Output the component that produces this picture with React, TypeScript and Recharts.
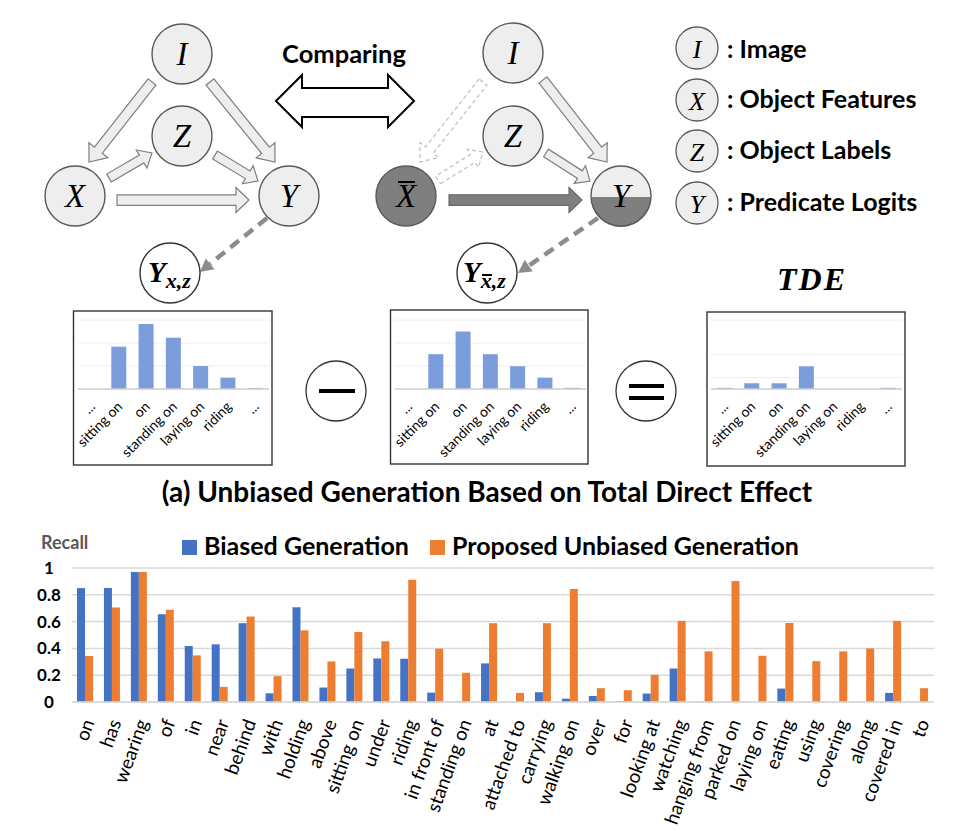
import React from 'react';
import { BarChart, Bar, XAxis, YAxis, CartesianGrid } from 'recharts';

// ---------- Data ----------
const predicates = [
  'on', 'has', 'wearing', 'of', 'in', 'near', 'behind', 'with', 'holding', 'above',
  'sitting on', 'under', 'riding', 'in front of', 'standing on', 'at', 'attached to',
  'carrying', 'walking on', 'over', 'for', 'looking at', 'watching', 'hanging from',
  'parked on', 'laying on', 'eating', 'using', 'covering', 'along', 'covered in', 'to',
];
const biasedRecall = [
  0.85, 0.85, 0.97, 0.655, 0.418, 0.43, 0.588, 0.065, 0.708, 0.108,
  0.25, 0.325, 0.323, 0.07, 0.003, 0.288, 0,
  0.073, 0.025, 0.045, 0.005, 0.063, 0.25, 0.002,
  0, 0, 0.1, 0, 0, 0, 0.068, 0,
];
const unbiasedRecall = [
  0.343, 0.705, 0.97, 0.688, 0.348, 0.113, 0.638, 0.193, 0.535, 0.303,
  0.523, 0.453, 0.913, 0.398, 0.218, 0.588, 0.068,
  0.588, 0.843, 0.103, 0.088, 0.203, 0.605, 0.378,
  0.903, 0.345, 0.59, 0.305, 0.378, 0.4, 0.605, 0.103,
];
const recallTicks = [0, 0.2, 0.4, 0.6, 0.8, 1];

const miniLabels = ['...', 'sitting on', 'on', 'standing on', 'laying on', 'riding', '...'];
const factualLogits = [0, 3.68, 5.65, 4.46, 2.0, 0.99, 0.09];
const counterfactualLogits = [0, 3.03, 5.0, 3.03, 1.98, 0.99, 0.1];
const tdeLogits = [0.1, 0.5, 0.5, 1.98, 0, 0, 0.1];
const miniTicks = [0, 1, 2, 3, 4, 5, 6];

const legendItems = [
  { sym: 'I', text: ': Image' },
  { sym: 'X', text: ': Object Features' },
  { sym: 'Z', text: ': Object Labels' },
  { sym: 'Y', text: ': Predicate Logits' },
];

const SANS = 'Lato, "Open Sans", sans-serif';
const SERIF = '"Liberation Serif", "DejaVu Serif", serif';
const BLUE = '#4472C4';
const ORANGE = '#ED7D31';
const MINI_BLUE = '#7c9ddb';
const NODE_FILL = '#eeeeee';
const NODE_STROKE = '#595959';

// ---------- Diagram helpers ----------
function blockArrow(x1: number, y1: number, x2: number, y2: number, shaft: number, head: number, headLen: number) {
  const dx = x2 - x1, dy = y2 - y1;
  const L = Math.hypot(dx, dy);
  const ux = dx / L, uy = dy / L;
  const nx = -uy, ny = ux;
  const bx = x2 - ux * headLen, by = y2 - uy * headLen;
  const s = shaft / 2, h = head / 2;
  const pts = [
    [x1 + nx * s, y1 + ny * s],
    [bx + nx * s, by + ny * s],
    [bx + nx * h, by + ny * h],
    [x2, y2],
    [bx - nx * h, by - ny * h],
    [bx - nx * s, by - ny * s],
    [x1 - nx * s, y1 - ny * s],
  ];
  return pts.map((p) => `${p[0].toFixed(1)},${p[1].toFixed(1)}`).join(' ');
}

function DashedPointer({ x1, y1, x2, y2 }: { x1: number; y1: number; x2: number; y2: number }) {
  const dx = x2 - x1, dy = y2 - y1;
  const L = Math.hypot(dx, dy);
  const ux = dx / L, uy = dy / L;
  const nx = -uy, ny = ux;
  const hl = 13, hw = 7;
  const bx = x2 - ux * hl, by = y2 - uy * hl;
  return (
    <g>
      <line x1={x1} y1={y1} x2={bx} y2={by} stroke="#8c8c8c" strokeWidth={4.5} strokeDasharray="11 7" />
      <polygon points={`${x2},${y2} ${bx + nx * hw},${by + ny * hw} ${bx - nx * hw},${by - ny * hw}`} fill="#8c8c8c" />
    </g>
  );
}

function NodeCircle({ cx, cy, r = 30, fill = NODE_FILL, letter, size = 33, bar = false }: any) {
  return (
    <g>
      <circle cx={cx} cy={cy} r={r} fill={fill} stroke={NODE_STROKE} strokeWidth={1.4} />
      <text x={cx} y={cy + size * 0.33} textAnchor="middle" fontFamily={SERIF} fontStyle="italic" fontSize={size} fill="#000">
        {letter}
      </text>
      {bar && <line x1={cx - 8} y1={cy - 14} x2={cx + 9} y2={cy - 14} stroke="#000" strokeWidth={2} />}
    </g>
  );
}

// ---------- Chart ticks ----------
const BottomTick = (p: any) => {
  const ax = p.x + 3;
  const ay = p.y + 10;
  return (
    <text x={ax} y={ay} dy="0.35em" textAnchor="end" transform={`rotate(-70 ${ax} ${ay})`} fontFamily={SANS} fontSize={19} fill="#000">
      {p.payload.value}
    </text>
  );
};

const RecallTick = (p: any) => (
  <text x={p.x - 15} y={p.y} dy="0.35em" textAnchor="middle" fontFamily={SANS} fontWeight={700} fontSize={17} fill="#000">
    {p.payload.value === 0 ? '0' : String(p.payload.value)}
  </text>
);

const MiniTick = (p: any) => {
  const ax = p.x + 1;
  const ay = p.y + 7;
  return (
    <text x={ax} y={ay} dy="0.35em" textAnchor="end" transform={`rotate(-45 ${ax} ${ay})`} fontFamily={SANS} fontSize={14} fill="#000">
      {miniLabels[p.payload.value]}
    </text>
  );
};

function MiniChart({ left, top, width, height, values, margin, xh }: any) {
  const data = miniLabels.map((label, i) => ({ key: i, label, value: values[i] }));
  return (
    <div style={{ position: 'absolute', left, top, width, height }}>
      <BarChart width={width} height={height} data={data} margin={margin}>
        <CartesianGrid vertical={false} stroke="#eeeeee" strokeWidth={1} />
        <XAxis dataKey="key" interval={0} tickLine={false} axisLine={{ stroke: '#cfcfcf', strokeWidth: 1.5 }} height={xh} tick={MiniTick} />
        <YAxis hide domain={[0, 6]} ticks={miniTicks} />
        <Bar dataKey="value" fill={MINI_BLUE} barSize={15} isAnimationActive={false} />
      </BarChart>
    </div>
  );
}

export default function App() {
  const recallData = predicates.map((name, i) => ({ name, biased: biasedRecall[i], unbiased: unbiasedRecall[i] }));

  return (
    <div style={{ position: 'absolute', left: 0, top: 0, width: 967, height: 831, background: '#fff', overflow: 'hidden' }}>
      {/* mini charts */}
      <MiniChart left={73} top={311} width={199} height={154} values={factualLogits} margin={{ top: 9, right: 3, left: 5, bottom: 0 }} xh={76} />
      <MiniChart left={390} top={310} width={198} height={154} values={counterfactualLogits} margin={{ top: 10, right: 2, left: 5, bottom: 0 }} xh={75} />
      <MiniChart left={707} top={312} width={198} height={154} values={tdeLogits} margin={{ top: 8, right: 3, left: 4, bottom: 0 }} xh={77} />

      {/* main recall chart */}
      <div style={{ position: 'absolute', left: 0, top: 530 }}>
        <BarChart width={967} height={301} data={recallData} margin={{ top: 38, right: 33, left: 10, bottom: 0 }} barGap={0}>
          <CartesianGrid vertical={false} stroke="#d9d9d9" strokeWidth={1.5} />
          <XAxis dataKey="name" interval={0} tickLine={false} axisLine={{ stroke: '#d9d9d9', strokeWidth: 1.5 }} height={129} tick={BottomTick} />
          <YAxis width={62} domain={[0, 1]} ticks={recallTicks} axisLine={false} tickLine={false} tick={RecallTick} />
          <Bar dataKey="biased" name="Biased Generation" fill={BLUE} barSize={8} isAnimationActive={false} />
          <Bar dataKey="unbiased" name="Proposed Unbiased Generation" fill={ORANGE} barSize={8} isAnimationActive={false} />
        </BarChart>
      </div>

      {/* diagram overlay */}
      <svg width={967} height={831} style={{ position: 'absolute', left: 0, top: 0, pointerEvents: 'none' }}>
        {/* left causal graph arrows */}
        <g fill={NODE_FILL} stroke="#7f7f7f" strokeWidth={1.2}>
          <polygon points={blockArrow(152, 82, 89, 162, 10, 24, 15)} />
          <polygon points={blockArrow(210, 82, 275, 162, 10, 24, 15)} />
          <polygon points={blockArrow(109, 178, 152, 153, 9, 21, 12)} />
          <polygon points={blockArrow(215, 155, 258, 181, 9, 21, 12)} />
          <polygon points={blockArrow(117, 200, 249, 200, 10.5, 25, 13)} />
        </g>
        <NodeCircle cx={182} cy={54} letter="I" />
        <NodeCircle cx={182} cy={136} letter="Z" />
        <NodeCircle cx={75} cy={196} letter="X" />
        <NodeCircle cx={289} cy={196} letter="Y" />
        <DashedPointer x1={267} y1={218} x2={200} y2={272} />

        {/* Comparing */}
        <text x={344} y={63} textAnchor="middle" fontFamily={SANS} fontWeight={700} fontSize={25.5} fill="#000">Comparing</text>
        <polygon
          points="276,101 302,75 302,88 388,88 388,75 414,101 388,127 388,117 302,117 302,127"
          fill="#fff" stroke="#000" strokeWidth={2}
        />

        {/* right causal graph */}
        <g fill="#fff" stroke="#bdbdbd" strokeWidth={1.2} strokeDasharray="4 3">
          <polygon points={blockArrow(483, 82, 420, 162, 10, 24, 15)} />
          <polygon points={blockArrow(438, 180, 483, 152, 9, 21, 12)} />
        </g>
        <g fill={NODE_FILL} stroke="#7f7f7f" strokeWidth={1.2}>
          <polygon points={blockArrow(543, 80, 607, 162, 10, 24, 15)} />
          <polygon points={blockArrow(546, 153, 590, 181, 9, 21, 12)} />
        </g>
        <polygon points={blockArrow(449, 200, 582, 200, 10.5, 25, 13)} fill="#7f7f7f" stroke="#6a6a6a" strokeWidth={1.2} />
        <NodeCircle cx={513} cy={53} letter="I" />
        <NodeCircle cx={513} cy={136} letter="Z" />
        <NodeCircle cx={406} cy={196} letter="X" fill="#7f7f7f" bar />
        <g>
          <circle cx={621} cy={196} r={30} fill={NODE_FILL} />
          <path d="M 591 197 A 30 30 0 0 0 651 197 Z" fill="#7f7f7f" />
          <circle cx={621} cy={196} r={30} fill="none" stroke={NODE_STROKE} strokeWidth={1.4} />
          <text x={621} y={207} textAnchor="middle" fontFamily={SERIF} fontStyle="italic" fontSize={33} fill="#000">Y</text>
        </g>
        <DashedPointer x1={598} y1={218} x2={518} y2={273} />

        {/* counterfactual outputs */}
        <circle cx={170} cy={273} r={30} fill="#fff" stroke="#333" strokeWidth={1.4} />
        <text x={148} y={282} fontFamily={SERIF} fontStyle="italic" fontWeight={700} fontSize={29} fill="#000">
          Y<tspan fontSize={22} dy={6}>x,z</tspan>
        </text>
        <circle cx={487} cy={273} r={30} fill="#fff" stroke="#333" strokeWidth={1.4} />
        <text x={463} y={282} fontFamily={SERIF} fontStyle="italic" fontWeight={700} fontSize={29} fill="#000">
          Y<tspan fontSize={22} dy={6}>x,z</tspan>
        </text>
        <line x1={482} y1={275} x2={492} y2={275} stroke="#000" strokeWidth={2} />

        {/* legend of symbols */}
        {legendItems.map((it, i) => {
          const cy = [48, 100, 151, 203][i];
          const by = [58, 108, 159, 211][i];
          return (
            <g key={it.sym}>
              <circle cx={697} cy={cy} r={21} fill={NODE_FILL} stroke={NODE_STROKE} strokeWidth={1.3} />
              <text x={697} y={cy + 10} textAnchor="middle" fontFamily={SERIF} fontStyle="italic" fontSize={26} fill="#000">{it.sym}</text>
              <text x={727} y={by} fontFamily={SANS} fontWeight={700} fontSize={25} fill="#000">{it.text}</text>
            </g>
          );
        })}

        <text x={812} y={290} textAnchor="middle" fontFamily={SERIF} fontStyle="italic" fontWeight={700} fontSize={32} letterSpacing={2} fill="#000">TDE</text>

        {/* mini chart frames */}
        <rect x={73.5} y={311} width={198.5} height={154} fill="none" stroke="#333" strokeWidth={1.4} />
        <rect x={390.5} y={310} width={197.5} height={154} fill="none" stroke="#333" strokeWidth={1.4} />
        <rect x={707} y={312} width={198} height={154} fill="none" stroke="#333" strokeWidth={1.4} />

        {/* minus and equals */}
        <circle cx={336} cy={391} r={30} fill="#fff" stroke="#333" strokeWidth={1.3} />
        <rect x={319} y={389} width={36} height={4} fill="#000" />
        <circle cx={646} cy={391} r={30} fill="#fff" stroke="#333" strokeWidth={1.3} />
        <rect x={629} y={384} width={35} height={4} fill="#000" />
        <rect x={629} y={396} width={35} height={4} fill="#000" />

        {/* caption */}
        <text x={487} y={502} textAnchor="middle" fontFamily={SANS} fontWeight={700} fontSize={28} fill="#000">
          (a) Unbiased Generation Based on Total Direct Effect
        </text>

        {/* recall chart legend and axis title */}
        <text x={41} y={549} fontFamily={SANS} fontWeight={700} fontSize={18} fill="#595959">Recall</text>
        <rect x={182} y={540} width={15} height={15} fill={BLUE} />
        <text x={204} y={555} fontFamily={SANS} fontWeight={700} fontSize={25} fill="#000">Biased Generation</text>
        <rect x={430} y={540} width={15} height={15} fill={ORANGE} />
        <text x={452} y={555} fontFamily={SANS} fontWeight={700} fontSize={25} fill="#000">Proposed Unbiased Generation</text>
      </svg>
    </div>
  );
}
